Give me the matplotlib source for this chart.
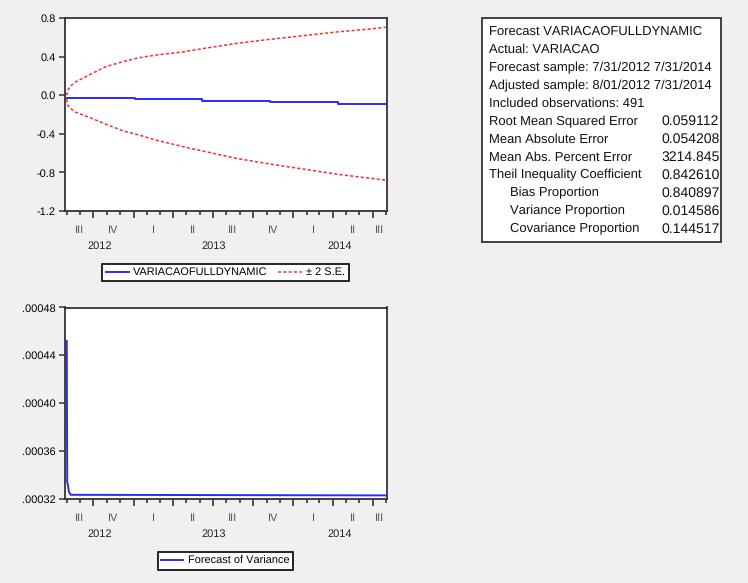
import numpy as np
import matplotlib
matplotlib.use('Agg')
import matplotlib.pyplot as plt
import matplotlib.dates as mdates
from matplotlib.patches import Rectangle
from matplotlib.lines import Line2D
from matplotlib.ticker import FuncFormatter, FixedLocator

plt.rcParams['font.family'] = ['Liberation Sans', 'DejaVu Sans']
plt.rcParams['text.hinting'] = 'no_hinting'
plt.rcParams['text.hinting_factor'] = 1

# dynamic forecast (step levels)
fc_dates = ['2012-08-01', '2013-01-05', '2013-06-06', '2013-11-08', '2014-04-12', '2014-07-31']
fc_vals = [-0.025, -0.042, -0.056, -0.070, -0.087, -0.087]

# +/- 2 S.E. bands
band_dates = ['2012-08-01', '2012-08-03', '2012-08-08', '2012-08-21', '2012-09-20',
              '2012-10-28', '2012-12-06', '2013-01-12', '2013-02-20', '2013-04-25',
              '2013-06-10', '2013-08-25', '2013-11-09', '2014-01-24', '2014-04-10',
              '2014-06-25', '2014-07-31']
upper_band = [0.0, 0.05, 0.09, 0.139, 0.209, 0.296, 0.348, 0.39, 0.418, 0.452,
              0.487, 0.54, 0.582, 0.62, 0.658, 0.689, 0.707]
lower_band = [-0.04, -0.10, -0.13, -0.174, -0.226, -0.296, -0.366, -0.41, -0.463, -0.533,
              -0.58, -0.655, -0.713, -0.765, -0.818, -0.86, -0.88]

# forecast of variance
var_dates = ['2012-08-01', '2012-08-02', '2012-08-03', '2012-08-06', '2012-08-10', '2014-07-31']
var_vals = [0.000452, 0.000334, 0.000333, 0.000326, 0.0003235, 0.000323]

# axis labels
quarter_starts = ['2012-07-01', '2012-10-01', '2013-01-01', '2013-04-01', '2013-07-01',
                  '2013-10-01', '2014-01-01', '2014-04-01', '2014-07-01', '2014-10-01']
quarter_labels = ['III', 'IV', 'I', 'II', 'III', 'IV', 'I', 'II', 'III']
year_starts = ['2012-01-01', '2013-01-01', '2014-01-01', '2015-01-01']
year_labels = ['2012', '2013', '2014']
top_yticks = [-1.2, -0.8, -0.4, 0.0, 0.4, 0.8]
bot_yticks = [0.00032, 0.00036, 0.00040, 0.00044, 0.00048]

# forecast evaluation table
stat_names = ['Forecast VARIACAOFULLDYNAMIC', 'Actual: VARIACAO',
              'Forecast sample: 7/31/2012 7/31/2014', 'Adjusted sample: 8/01/2012 7/31/2014',
              'Included observations: 491', 'Root Mean Squared Error', 'Mean Absolute Error',
              'Mean Abs. Percent Error', 'Theil Inequality Coefficient',
              'Bias Proportion', 'Variance Proportion', 'Covariance Proportion']
stat_indent = [0, 0, 0, 0, 0, 0, 0, 0, 0, 1, 1, 1]
stat_values = ['', '', '', '', '', '0.059112', '0.054208', '3214.845', '0.842610',
               '0.840897', '0.014586', '0.144517']

W, H = 748, 583
xmin = mdates.datestr2num('2012-07-28')
xmax = mdates.datestr2num('2014-08-03')
small = 7.6


def d2n(lst):
    return mdates.datestr2num(lst)


def style_date_axis(ax, height_px):
    for s in ax.spines.values():
        s.set_linewidth(1.3)
        s.set_color('#333333')
    ax.set_xlim(xmin, xmax)
    ax.xaxis.set_major_locator(mdates.MonthLocator(bymonth=[1, 4, 7, 10]))
    ax.xaxis.set_minor_locator(mdates.MonthLocator())
    ax.tick_params(axis='x', which='major', length=5, width=1.2, color='#333333', labelbottom=False)
    ax.tick_params(axis='x', which='minor', length=2.7, width=1.2, color='#333333')
    ax.tick_params(axis='y', length=4, width=1.1, color='#333333', labelsize=small, pad=2.5)
    qs = d2n(quarter_starts)
    for i, lab in enumerate(quarter_labels):
        a = max(qs[i], xmin)
        b = min(qs[i + 1], xmax)
        ax.text((a + b) / 2, -19 / height_px, lab, transform=ax.get_xaxis_transform(),
                ha='center', va='center', fontsize=small, color='#555555')
    ys = d2n(year_starts)
    for i, lab in enumerate(year_labels):
        a = max(ys[i], xmin)
        b = min(ys[i + 1], xmax)
        ax.text((a + b) / 2, -35 / height_px, lab, transform=ax.get_xaxis_transform(),
                ha='center', va='center', fontsize=small, color='#222222')


fig = plt.figure(figsize=(W / 100, H / 100), dpi=100, facecolor='#f0f0f0')

# top panel: forecast with bands
h1 = 192.7
ax1 = fig.add_axes([65 / W, 1 - 211 / H, 322 / W, h1 / H])
ax1.plot(d2n(band_dates), upper_band, color='#ff2a2a', lw=1.1, ls=(0, (2, 1.5)))
ax1.plot(d2n(band_dates), lower_band, color='#ff2a2a', lw=1.1, ls=(0, (2, 1.5)))
ax1.plot(d2n(fc_dates), fc_vals, color='#2a2aff', lw=1.4, drawstyle='steps-post')
ax1.set_ylim(-1.2, 0.8)
ax1.yaxis.set_major_locator(FixedLocator(top_yticks))
ax1.yaxis.set_major_formatter(FuncFormatter(lambda v, p: f'{v:.1f}'))
style_date_axis(ax1, h1)

handles = [Line2D([], [], color='#2a2aff', lw=1.4),
           Line2D([], [], color='#ff2a2a', lw=1.1, ls=(0, (2, 1.5)))]
leg1 = ax1.legend(handles, ['VARIACAOFULLDYNAMIC', '\u00b1 2 S.E.'], loc='center',
                  bbox_to_anchor=(225.5 / W, 1 - 272.5 / H), bbox_transform=fig.transFigure,
                  ncol=2, fontsize=7.6, fancybox=False, edgecolor='black', framealpha=1,
                  handlelength=2.2, columnspacing=1.0, borderpad=0.35, handletextpad=0.4)
leg1.get_frame().set_linewidth(1.2)

# bottom panel: variance forecast
h2 = 191.5
ax2 = fig.add_axes([65 / W, 1 - 499 / H, 322 / W, h2 / H])
ax2.plot(d2n(var_dates), var_vals, color='#2a2aff', lw=1.4)
ax2.set_ylim(0.00032, 0.00048)
ax2.yaxis.set_major_locator(FixedLocator(bot_yticks))
ax2.yaxis.set_major_formatter(FuncFormatter(lambda v, p: f'{v:.5f}'.lstrip('0')))
style_date_axis(ax2, h2)

leg2 = ax2.legend([Line2D([], [], color='#2a2aff', lw=1.4)], ['Forecast of Variance'],
                  loc='center', bbox_to_anchor=(225.5 / W, 1 - 561 / H),
                  bbox_transform=fig.transFigure, fontsize=7.7, fancybox=False,
                  edgecolor='black', framealpha=1, handlelength=2.0, borderpad=0.35,
                  handletextpad=0.5)
leg2.get_frame().set_linewidth(1.2)

# statistics box
fig.patches.append(Rectangle((482 / W, 1 - 242 / H), 239 / W, 224 / H,
                             transform=fig.transFigure, facecolor='white',
                             edgecolor='#222222', lw=1.2))
for i, (name, val) in enumerate(zip(stat_names, stat_values)):
    y = 1 - (32 + 17.9 * i) / H
    x = 489 if stat_indent[i] == 0 else 510
    fig.text(x / W, y, name, fontsize=9.6, va='center', ha='left', color='#111111')
    if val:
        fig.text(661 / W, y, val, fontsize=10, va='center', ha='left', color='#111111')

fig.savefig('out.png', dpi=100, facecolor=fig.get_facecolor())
